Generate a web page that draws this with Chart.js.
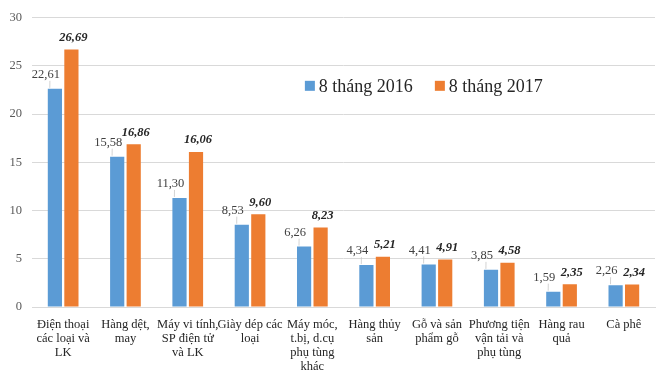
<!DOCTYPE html>
<html>
<head>
<meta charset="utf-8">
<script src="https://cdn.jsdelivr.net/npm/chart.js@4.4.1/dist/chart.umd.min.js"></script>
<style>
  html, body { margin: 0; padding: 0; background: #fff; }
  #wrap { width: 670px; height: 385px; }
</style>
</head>
<body>
<div id="wrap"><canvas id="c" width="670" height="385"></canvas></div>
<script>
const categories = [
  ["Điện thoại", "các loại và", "LK"],
  ["Hàng dệt,", "may"],
  ["Máy vi tính,", "SP điện tử", "và LK"],
  ["Giày dép các", "loại"],
  ["Máy móc,", "t.bị, d.cụ", "phụ tùng", "khác"],
  ["Hàng thủy", "sản"],
  ["Gỗ và sản", "phẩm gỗ"],
  ["Phương tiện", "vận tải và", "phụ tùng"],
  ["Hàng rau", "quả"],
  ["Cà phê"]
];
const values2016 = [22.61, 15.58, 11.30, 8.53, 6.26, 4.34, 4.41, 3.85, 1.59, 2.26];
const values2017 = [26.69, 16.86, 16.06, 9.60, 8.23, 5.21, 4.91, 4.58, 2.35, 2.34];
const seriesNames = ["8 tháng 2016", "8 tháng 2017"];
const yMin = 0, yMax = 30, yStep = 5;

const FONT = "'Liberation Serif', 'Times New Roman', serif";
const COLORS = ["#5B9BD5", "#ED7D31"];

function fmt(v) { return v.toFixed(2).replace('.', ','); }

const labelPlugin = {
  id: 'barLabels',
  afterDatasetsDraw(chart) {
    const ctx = chart.ctx;
    ctx.save();
    chart.data.datasets.forEach((ds, di) => {
      const meta = chart.getDatasetMeta(di);
      meta.data.forEach((bar, i) => {
        const v = ds.data[i];
        const txt = fmt(v);
        let tx, ty;
        if (di === 0) {
          ctx.font = "12.5px " + FONT;
          ctx.fillStyle = "#404040";
          tx = bar.x - 9; ty = bar.y - 14;
        } else {
          ctx.font = "italic bold 12.5px " + FONT;
          ctx.fillStyle = "#262626";
          tx = bar.x + 2; ty = bar.y - 12;
        }
        ctx.textAlign = 'center';
        ctx.textBaseline = 'middle';
        ctx.fillText(txt, tx, ty);
        if (di === 0) {
          ctx.strokeStyle = "#c8c8c8";
          ctx.lineWidth = 0.8;
          ctx.beginPath();
          ctx.moveTo(tx + 4, ty + 6);
          ctx.lineTo(bar.x - bar.width / 2 + 2, bar.y - 1);
          ctx.stroke();
        }
      });
    });
    ctx.restore();
  }
};

const legendPlugin = {
  id: 'innerLegend',
  afterDraw(chart) {
    const ctx = chart.ctx;
    const a = chart.chartArea;
    let x = a.left + 0.438 * (a.right - a.left);
    const y = a.top + 0.236 * (a.bottom - a.top);
    ctx.save();
    ctx.font = "18px " + FONT;
    ctx.textBaseline = 'middle';
    ctx.textAlign = 'left';
    chart.data.datasets.forEach((ds, di) => {
      ctx.fillStyle = ds.backgroundColor;
      ctx.fillRect(x, y - 5, 10, 10);
      ctx.fillStyle = "#262626";
      ctx.fillText(ds.label, x + 14, y + 1);
      x += 14 + ctx.measureText(ds.label).width + 22;
    });
    ctx.restore();
  }
};

new Chart(document.getElementById('c'), {
  type: 'bar',
  data: {
    labels: categories,
    datasets: [
      { label: seriesNames[0], data: values2016, backgroundColor: COLORS[0] },
      { label: seriesNames[1], data: values2017, backgroundColor: COLORS[1] }
    ]
  },
  options: {
    responsive: false,
    animation: false,
    devicePixelRatio: 1,
    layout: { padding: { top: 15, right: 15, left: 0, bottom: 0 } },
    datasets: { bar: { categoryPercentage: 0.53, barPercentage: 0.86 } },
    plugins: { legend: { display: false }, tooltip: { enabled: false } },
    scales: {
      x: {
        grid: { display: false },
        border: { display: true, color: '#d9d9d9' },
        ticks: {
          color: '#262626',
          font: { family: FONT, size: 12.5, lineHeight: 1.12 },
          maxRotation: 0, minRotation: 0, autoSkip: false, padding: 3
        },
        afterFit(scale) { scale.height = 78; }
      },
      y: {
        min: yMin, max: yMax,
        grid: { color: '#d9d9d9', drawTicks: false },
        border: { display: false },
        ticks: {
          stepSize: yStep,
          color: '#595959',
          font: { family: FONT, size: 12.5 },
          padding: 10
        },
        afterFit(scale) { scale.width = 32; }
      }
    }
  },
  plugins: [labelPlugin, legendPlugin]
});
</script>
</body>
</html>
